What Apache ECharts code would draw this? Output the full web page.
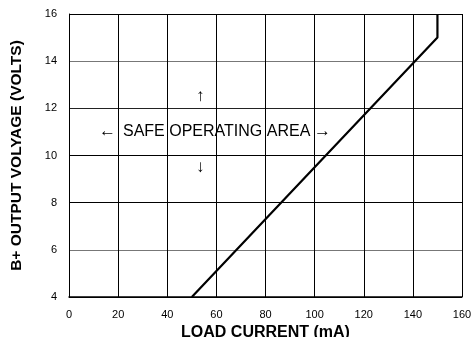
<!DOCTYPE html>
<html><head><meta charset="utf-8">
<script src="https://cdn.jsdelivr.net/npm/echarts@6/dist/echarts.min.js"></script>
<style>html,body{margin:0;padding:0;background:#fff}#c{width:472px;height:337px}</style>
</head><body><div id="c"></div>
<script>
var xLabels = [0, 20, 40, 60, 80, 100, 120, 140, 160];
var yLabels = [4, 6, 8, 10, 12, 14, 16];
var limitCurrent = [50, 150, 150];
var limitVoltage = [4, 15, 16];
var areaText = 'SAFE OPERATING AREA';

var chart = echarts.init(document.getElementById('c'));
var F = 'Liberation Sans, Arial, sans-serif';
chart.setOption({
  animation: false,
  grid: {left: 69, right: 10, top: 14, bottom: 40, containLabel: false, outerBoundsMode: 'none'},
  xAxis: {
    type: 'value', min: 0, max: 160, interval: 20,
    name: 'LOAD CURRENT (mA)', nameLocation: 'middle', nameGap: 27,
    nameTextStyle: {fontFamily: F, fontSize: 16, fontWeight: 'bold', color: '#000'},
    axisLine: {show: true, lineStyle: {color: '#000', width: 1.5}},
    axisTick: {show: false},
    axisLabel: {fontFamily: F, fontSize: 11, color: '#000', margin: 12},
    splitLine: {show: true, lineStyle: {color: '#000', width: 1}}
  },
  yAxis: {
    type: 'value', min: 4, max: 16, interval: 2,
    name: 'B+ OUTPUT VOLYAGE (VOLTS)', nameLocation: 'middle', nameGap: 44, nameRotate: 90,
    nameTextStyle: {fontFamily: F, fontSize: 15.5, fontWeight: 'bold', color: '#000'},
    axisLine: {show: true, lineStyle: {color: '#000', width: 1}},
    axisTick: {show: false},
    axisLabel: {fontFamily: F, fontSize: 11, color: '#000', margin: 12},
    splitLine: {show: true, lineStyle: {color: ['#000', '#777', '#000', '#000', '#222', '#777', '#000'], width: 1}}
  },
  series: [{
    type: 'line',
    data: limitCurrent.map(function (x, i) { return [x, limitVoltage[i]]; }),
    symbol: 'none',
    lineStyle: {color: '#000', width: 2.2},
    z: 5
  }],
  graphic: [
    {type: 'text', left: 123, top: 124, style: {text: areaText, font: '16px ' + F, fill: '#000'}},
    {type: 'text', left: 99, top: 123, style: {text: '←', font: '17px ' + F, fill: '#000'}},
    {type: 'text', left: 314, top: 123, style: {text: '→', font: '17px ' + F, fill: '#000'}},
    {type: 'text', left: 196, top: 88, style: {text: '↑', font: '17px ' + F, fill: '#000'}},
    {type: 'text', left: 196, top: 159, style: {text: '↓', font: '17px ' + F, fill: '#000'}}
  ]
});
</script></body></html>
